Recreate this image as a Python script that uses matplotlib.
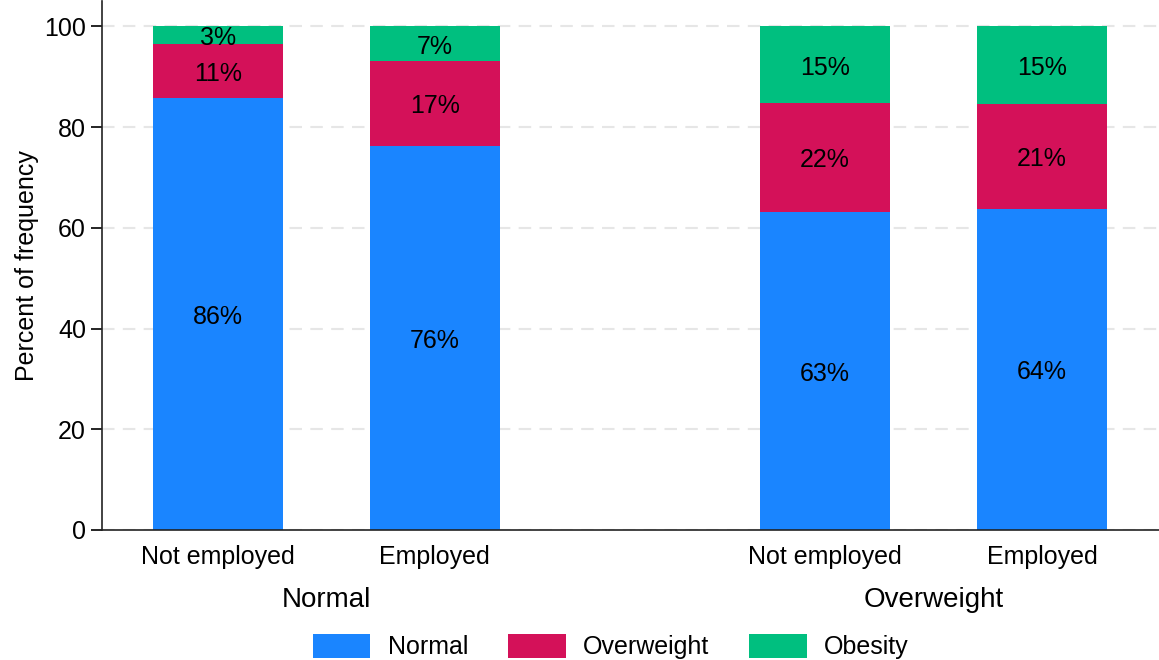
import numpy as np
import matplotlib.pyplot as plt

plt.rcParams['font.family'] = ['Liberation Sans', 'DejaVu Sans']

# Data (percent of frequency)
groups = ['Normal', 'Overweight']
employment = ['Not employed', 'Employed', 'Not employed', 'Employed']
series = ['Normal', 'Overweight', 'Obesity']
normal = [85.8, 76.3, 63.2, 63.7]
overweight = [10.8, 16.8, 21.6, 20.9]
obesity = [3.4, 6.9, 15.2, 15.4]

colors = ['#1a85ff', '#d41159', '#00bf7f']

x = np.array([0, 1, 2.8, 3.8])
group_centers = [0.5, 3.3]

fig = plt.figure(figsize=(11.59, 6.6), dpi=100)
ax = fig.add_axes([0.088, 0.197, 0.912, 0.801])

bottom = np.zeros(len(x))
for name, vals, col in zip(series, [normal, overweight, obesity], colors):
    vals = np.array(vals)
    ax.bar(x, vals, width=0.6, bottom=bottom, color=col, label=name, zorder=2)
    for xi, b, v in zip(x, bottom, vals):
        ax.annotate(f'{v:.0f}%', (xi, b + v / 2), xytext=(0, -2), textcoords='offset points',
                    ha='center', va='center', fontsize=18)
    bottom += vals

ax.set_xlim(-0.535, 4.34)
ax.set_ylim(0, 105)
ax.set_yticks([0, 20, 40, 60, 80, 100])
ax.set_xticks(x)
ax.set_xticklabels(employment)
ax.tick_params(axis='x', length=0, labelsize=18, pad=11)
ax.tick_params(axis='y', length=8, labelsize=18, width=1.2)
ax.yaxis.grid(True, linestyle=(0, (6, 4)), color='#e6e6e6', linewidth=1.5, zorder=0)
ax.set_ylabel('Percent of frequency', fontsize=18)
for s in ['top', 'right']:
    ax.spines[s].set_visible(False)
for s in ['left', 'bottom']:
    ax.spines[s].set_linewidth(1.2)
    ax.spines[s].set_color('#222222')

for gx, g in zip(group_centers, groups):
    ax.text(gx, -0.132, g, transform=ax.get_xaxis_transform(), ha='center', va='center', fontsize=20)

fig.legend(loc='center', bbox_to_anchor=(0.527, 0.02), ncol=3, frameon=False, fontsize=18,
           handlelength=2.3, handleheight=1.08, handletextpad=0.7, columnspacing=1.6)

fig.savefig('out.png', dpi=100)
